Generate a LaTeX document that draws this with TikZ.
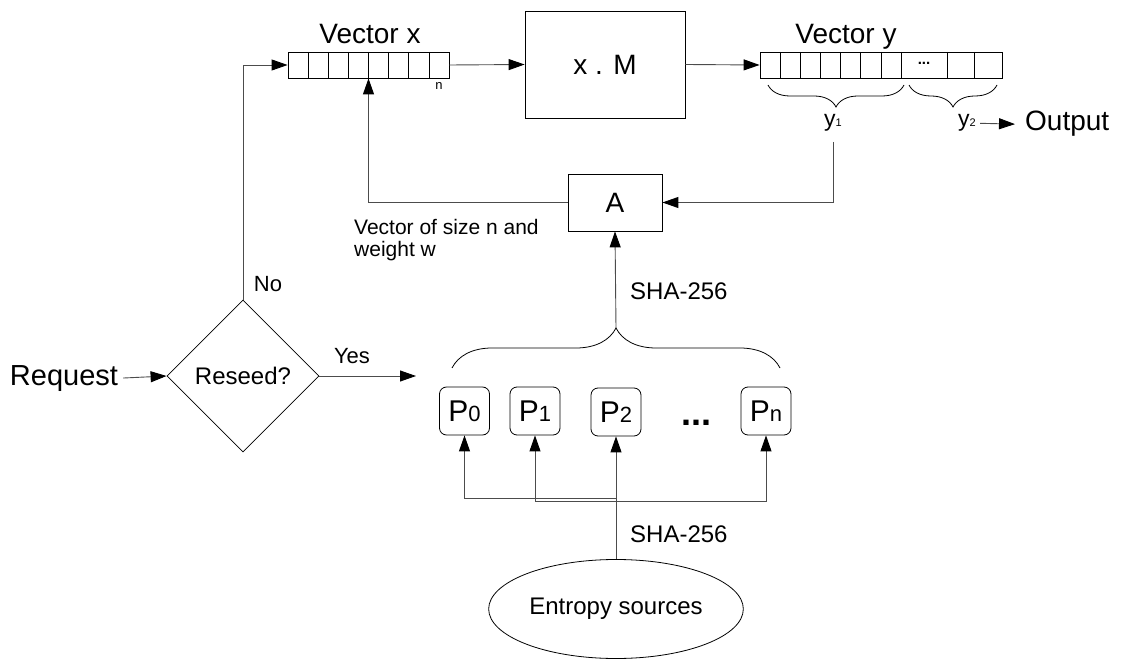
\documentclass[tikz,border=0pt]{standalone}
\usepackage{fontspec}
\setmainfont{Liberation Sans}
\usetikzlibrary{arrows.meta,shapes.geometric,decorations.pathreplacing,positioning}
\newcommand{\fs}[1]{\fontsize{#1}{#1}\selectfont}
\newcommand{\idx}[1]{{\fs{22}#1}}
\tikzset{
  blk/.style = {rectangle, draw=black, line width=0.8pt, inner sep=0pt,
    font=\fs{28}},% plain box
  cell/.style = {blk, minimum height=26pt},% row of cells
  pbox/.style = {blk, rounded corners=7pt, minimum width=50pt,
    minimum height=48pt, font=\fs{30}},% pool box
  dec/.style = {diamond, draw=black, line width=0.8pt, inner sep=0pt,
    aspect=1, minimum width=152pt, minimum height=152pt,
    font=\fs{24}},% decision
  src/.style = {ellipse, draw=black, line width=0.8pt, minimum width=220pt,
    minimum height=99pt, font=\fs{24}},% entropy source
  lbl/.style = {inner sep=0pt, font=\fs{22}},% plain text
  wire/.style = {draw=black!70, line width=0.9pt}% connector
}

\begin{document}
\begin{tikzpicture}[x=1pt,y=-1pt,
  >={Triangle[length=16pt,width=11pt,color=black]}]
\useasboundingbox (0,0) rectangle (1122,660);
% vector x
\node [cell, minimum width=161pt] (vx) at (368.5,65) {};
\foreach \x in {308.1,328.2,348.4,368.5,388.6,408.8,428.9}
  \draw [line width=0.8pt] (\x,52) -- (\x,78);
\node [lbl, font=\fs{28}, anchor=base] (vxl) at (370,44) {Vector x};
\node [lbl, font=\fs{13}, anchor=base] (nl) at (439,90) {n};
% x . M
\node [blk, minimum width=160pt, minimum height=107pt] (xm) at (605,64.5) {x . M};
% vector y
\node [cell, minimum width=242pt] (vy) at (881,65) {};
\foreach \x in {780.1,800.3,820.4,840.6,860.7,880.9,901,947,974}
  \draw [line width=0.8pt] (\x,52) -- (\x,78);
\node [lbl, font=\fs{15}\bfseries] (vyd) at (924,63) {...};
\node [lbl, font=\fs{28}, anchor=base] (vyl) at (846,44) {Vector y};
\draw [line width=0.8pt, decorate, decoration={brace, mirror, amplitude=22pt}]
  (768,85) -- (904,85);
\draw [line width=0.8pt, decorate, decoration={brace, mirror, amplitude=22pt}]
  (909,85) -- (997,85);
\node [lbl, font=\fs{23}, anchor=base] (ya) at (833,127) {y{\fs{11}1}};
\node [lbl, font=\fs{23}, anchor=base] (yb) at (967,127) {y{\fs{11}2}};
\node [lbl, font=\fs{28}, anchor=base west, inner sep=0pt] (out) at (1025,131) {Output};
% A box
\node [blk, minimum width=94pt, minimum height=57pt] (A) at (615,202.5) {A};
\node [lbl, font=\fontsize{21}{22}\selectfont, align=left, anchor=north west]
  (wl) at (354,219) {Vector of size n and\\weight w};
% reseed
\node [dec] (rs) at (243,376) {Reseed?};
\node [lbl, font=\fs{29}, anchor=base, inner sep=5pt] (rq) at (64,385) {Request};
\coordinate (ye) at (416,376);
\node [lbl, anchor=base] (yes) at (352,363) {Yes};
\node [lbl, anchor=base] (no) at (268,292) {No};
% pools
\node [pbox] (p0) at (464.5,411) {P\idx{0}};
\node [pbox] (p1) at (535,411) {P\idx{1}};
\node [pbox] (p2) at (616,412) {P\idx{2}};
\node [pbox] (pn) at (766,411) {P\idx{n}};
\node [lbl, font=\fs{36}\bfseries, anchor=base] (dots) at (696,425) {...};
\draw [line width=0.8pt, decorate, decoration={brace, amplitude=40pt}]
  (452,368) -- (780,368);
\coordinate (bt) at (616,328);
\node [lbl, font=\fs{24}, anchor=base west] (sh1) at (630,300) {SHA-256};
\node [lbl, font=\fs{24}, anchor=base west] (sh2) at (630,542) {SHA-256};
\node [src] (ent) at (616,609) {Entropy sources};
\coordinate (j0) at (616,498);
\coordinate (j1) at (616,501);

% connectors
\draw [wire,->] (vx.east) -- (xm.west);
\draw [wire,->] (xm.east) -- (vy.west);
\draw [wire,->] (yb.east) ++(4pt,0) -- ([xshift=-10pt]out.west);
\draw [wire,->] ([yshift=-10pt]ya.south) |- (A.east);
\draw [wire,->] (A.west) -| (vx.south);
\draw [wire,->] (rq.east) -- (rs.west);
\draw [wire,->] (rs.east) -- (ye);
\draw [wire,->] (rs.north) |- (vx.west);
\draw [wire,->] (bt) -- (A.south);
\draw [wire,->] (ent.north) -- (p2.south);
\draw [wire,->] (j0) -| (p0.south);
\draw [wire,->] (j1) -| (p1.south);
\draw [wire,->] (j1) -| (pn.south);
\end{tikzpicture}
\end{document}
